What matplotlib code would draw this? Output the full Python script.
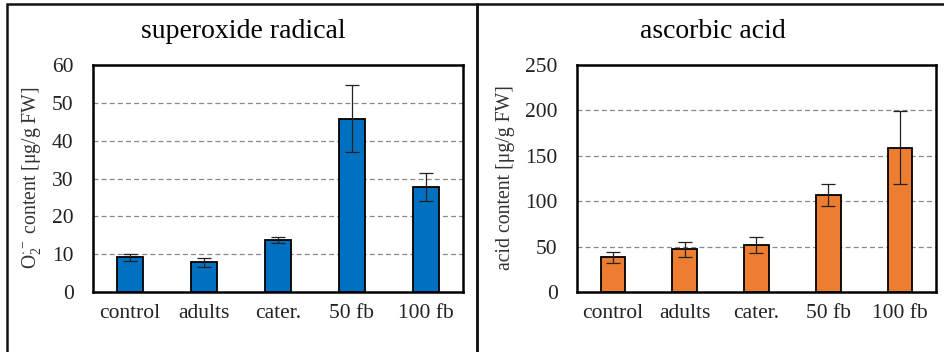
import matplotlib.pyplot as plt
from matplotlib.patches import Rectangle

plt.rcParams['font.family'] = ['Liberation Serif', 'DejaVu Serif']
plt.rcParams['mathtext.fontset'] = 'custom'
plt.rcParams['mathtext.rm'] = 'Liberation Serif'
plt.rcParams['mathtext.it'] = 'Liberation Serif:italic'

categories = ['control', 'adults', 'cater.', '50 fb', '100 fb']

superoxide = [9.2, 7.8, 13.7, 45.8, 27.8]
superoxide_err = [0.9, 1.2, 0.8, 8.8, 3.7]

ascorbic = [38, 47, 52, 107, 159]
ascorbic_err = [6, 8, 9, 12, 40]

W, H = 945, 352
fig = plt.figure(figsize=(W / 100, H / 100), dpi=100)


def px_axes(x0, y0, x1, y1):
    return fig.add_axes([x0 / W, 1 - y1 / H, (x1 - x0) / W, (y1 - y0) / H])


def panel(ax, vals, errs, color, ymax, step, title, ylabel, title_x, label_x):
    x = range(len(categories))
    ax.bar(x, vals, width=0.34, color=color, edgecolor='black', linewidth=1.3, zorder=3)
    ax.errorbar(x, vals, yerr=errs, fmt='none', ecolor='#222222', elinewidth=0.9,
                capsize=5, capthick=0.9, zorder=4)
    ax.set_xlim(-0.5, len(categories) - 0.5)
    ax.set_ylim(0, ymax)
    ax.set_yticks(range(0, ymax + 1, step))
    ax.set_xticks(list(x))
    ax.set_xticklabels(categories)
    ax.tick_params(length=0, labelsize=15.5, colors='#222222')
    ax.tick_params(axis='y', pad=14)
    ax.tick_params(axis='x', pad=9)
    for t in range(step, ymax, step):
        ax.axhline(t, color='#888888', linestyle=(0, (4, 2.5)), linewidth=0.9, zorder=1)
    for s in ax.spines.values():
        s.set_linewidth(1.8)
    fig.text(title_x / W, 1 - 32 / H, title, ha='center', va='center', fontsize=20)
    fig.text(label_x / W, 1 - 178 / H, ylabel, ha='center', va='center',
             rotation=90, fontsize=14.2, color='#333333')


ax1 = px_axes(93, 65, 463, 292)
panel(ax1, superoxide, superoxide_err, '#0070C0', 60, 10, 'superoxide radical',
      r'O$_2^{\cdot-}$ content [μg/g FW]', 243, 32)

ax2 = px_axes(577, 65, 936, 292)
panel(ax2, ascorbic, ascorbic_err, '#ED7D31', 250, 50, 'ascorbic acid',
      'acid content [μg/g FW]', 713, 506)

# outer panel frames
fig.patches.append(Rectangle((7 / W, -0.1), 470 / W, 1 - 4 / H + 0.1, transform=fig.transFigure,
                             fill=False, edgecolor='#111111', linewidth=1.8))
fig.patches.append(Rectangle((477 / W, -0.1), 0.6, 1 - 4 / H + 0.1, transform=fig.transFigure,
                             fill=False, edgecolor='#111111', linewidth=1.8))

fig.savefig('out.png', dpi=100)
